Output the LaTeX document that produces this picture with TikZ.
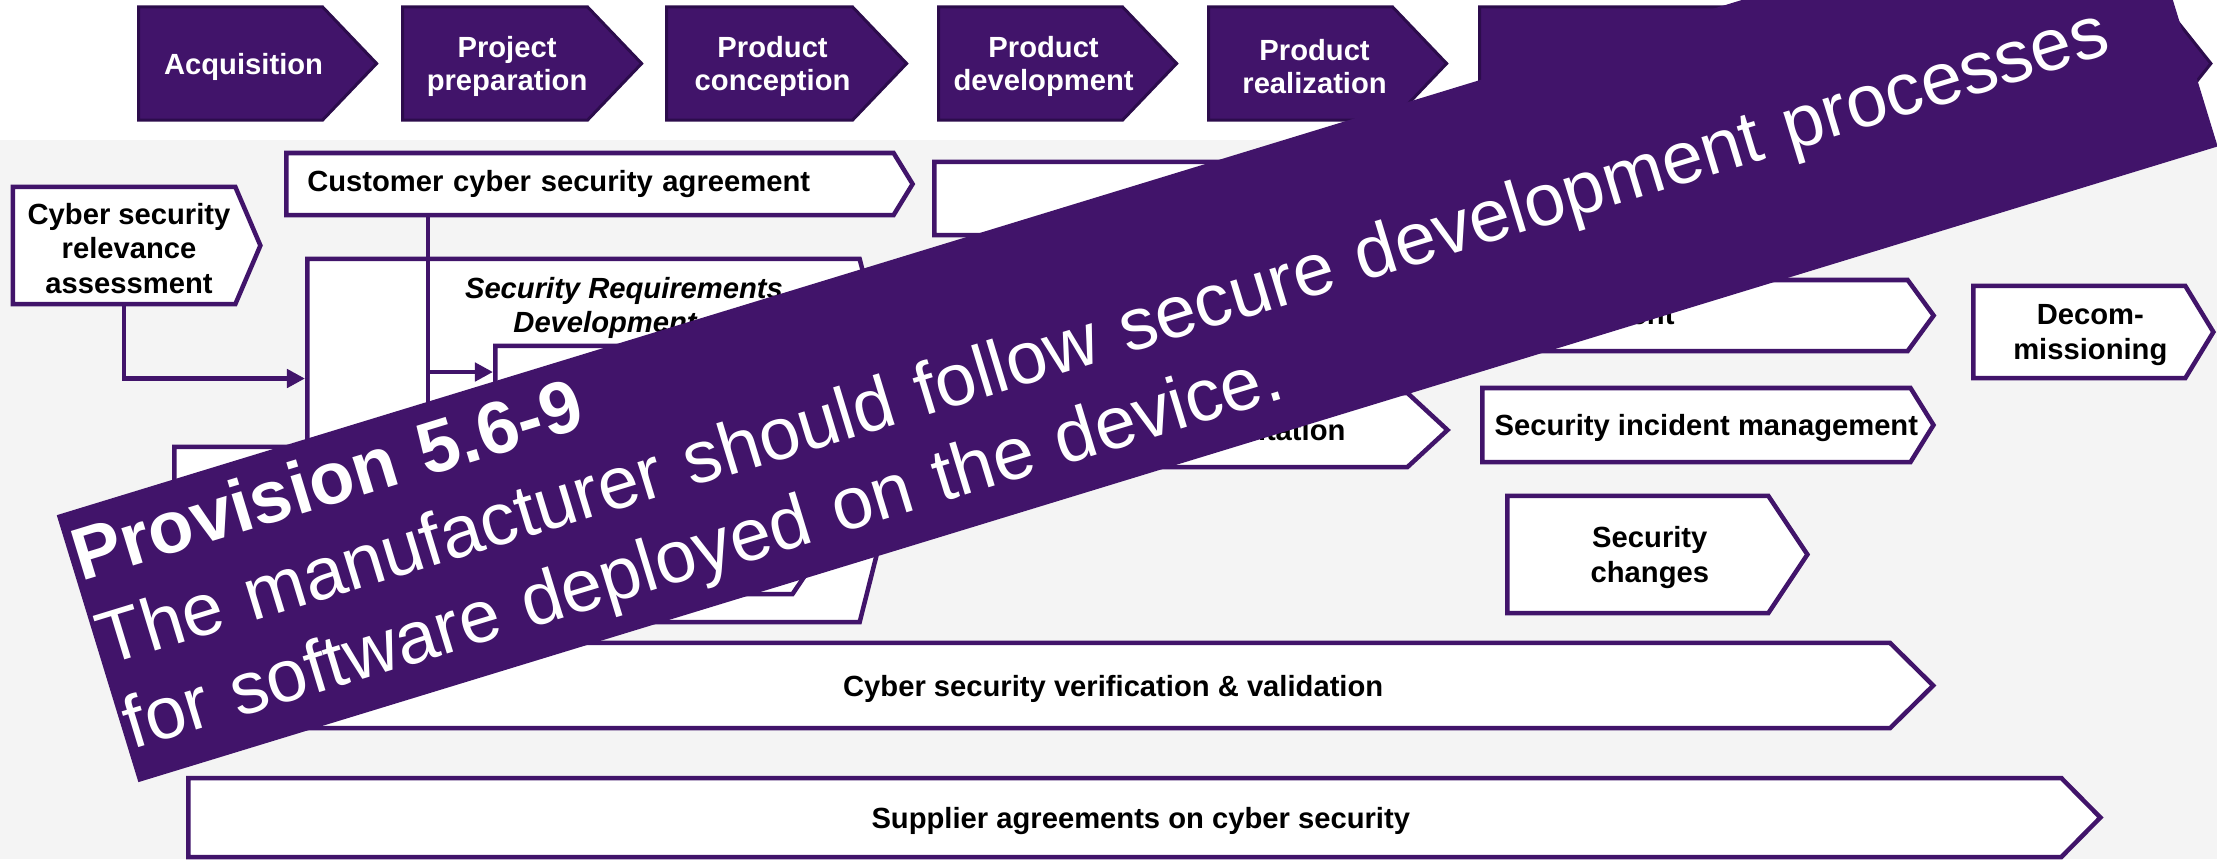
\documentclass[tikz,border=0pt]{standalone}
\usepackage{fontspec}
\setmainfont{Liberation Sans}
\usetikzlibrary{shapes.symbols,arrows.meta,calc}
\definecolor{lilac}{RGB}{65,20,106}
\definecolor{lilacdark}{RGB}{44,12,76}
\definecolor{paper}{RGB}{244,244,244}
\begin{document}
\begin{tikzpicture}[x=0.01cm, y=-0.01cm,
	font=\fontsize{8.3}{9.7}\selectfont\bfseries,
	plate/.style = { signal, signal to=east, draw=lilac, line width=0.045cm,
	fill=white, inner sep=0pt, anchor=west, align=center },
	phase/.style = { plate, draw=lilacdark, line width=0.03cm, fill=lilac,
	minimum height=1.13cm, signal pointer angle=92.6 },
	tag/.style 2 args = { label={[xshift=#1, yshift=-0.03cm, align=center]center:#2} },
	ptag/.style 2 args = { label={[xshift=#1, yshift=-0.03cm, align=center,
	text=white, font=\fontsize{8.3}{9.2}\selectfont\bfseries]center:#2} },
	heading/.style = { font=\fontsize{8.3}{9.7}\selectfont\bfseries\itshape },
	link/.style = { draw=lilac, line width=0.045cm },
	arrowed/.style = { link, -{Triangle[length=0.18cm, width=0.18cm]} },
	banner/.style = { rectangle, fill=lilac, text=white, rotate=17,
	minimum width=21.73cm, minimum height=2.79cm, inner xsep=0.04cm,
	inner ysep=0pt, text width=21.65cm, align=left,
	font=\fontsize{21}{25}\selectfont } ]

  \useasboundingbox (0,0) rectangle (2217,859);
  \fill[paper] (0,140) rectangle (2217,859);

  % life cycle phases
  \node [name=acq, phase, minimum width=2.38cm,
	ptag={0.13cm}{Acquisition}] at (137,63.5) {};
  \node [name=prep, phase, minimum width=2.39cm,
	ptag={0.12cm}{Project\\preparation}] at (401,63.5) {};
  \node [name=conc, phase, minimum width=2.40cm,
	ptag={0.13cm}{Product\\conception}] at (665,63.5) {};
  \node [name=dev, phase, minimum width=2.38cm,
	ptag={0.13cm}{Product\\development}] at (937,63.5) {};
  \node [name=real, phase, minimum width=2.38cm,
	ptag={0.14cm}{Product\\realization}] at (1207,63.5) {};
  \node [name=ops, phase, minimum width=7.31cm,
	signal pointer angle=103] at (1478,63.5) {};

  % activities
  \node [name=relev, plate, minimum width=2.475cm, minimum height=1.17cm,
	signal pointer angle=133.7,
	tag={0.05cm}{Cyber security\\relevance\\assessment}] at (10.5,245.5) {};
  \node [name=cust, plate, minimum width=6.26cm, minimum height=0.62cm,
	signal pointer angle=117, text width=5.65cm, align=left] at (284,184)
	{ Customer cyber security agreement };
  \node [name=monit, plate, minimum width=4.88cm, minimum height=0.73cm,
	signal pointer angle=122.7] at (932,198.5) {};
  \node [name=lbox, plate, minimum width=3.3cm, minimum height=1.53cm,
	signal pointer angle=120] at (172,523.5) {};
  \node [name=srd, plate, minimum width=5.98cm, minimum height=3.63cm,
	signal pointer angle=151.6] at (305,440.5) {};
  \node [name=srtitle, heading, anchor=base] at (624,298) { Security Requirements };
  \node [name=srtitleb, heading, anchor=base west] at (501,332) { Development };
  \node [name=srin, plate, minimum width=3.81cm, minimum height=2.48cm,
	signal pointer angle=111.8] at (493,470) {};
  \node [name=impl, plate, minimum width=4.45cm, minimum height=0.74cm,
	signal pointer angle=85.5, text width=2.81cm, align=right] at (1000,430)
	{ ntation };
  \node [name=vuln, plate, minimum width=7.01cm, minimum height=0.71cm,
	signal pointer angle=107.6, text width=2.09cm, align=right] at (1230,315.5)
	{ ent };
  \node [name=incid, plate, minimum width=4.51cm, minimum height=0.74cm,
	signal pointer angle=116.3,
	tag={0.10cm}{Security incident management}] at (1480,425) {};
  \node [name=chg, plate, minimum width=3.0cm, minimum height=1.17cm,
	signal pointer angle=112.6,
	tag={0.12cm}{Security\\changes}] at (1505,554.5) {};
  \node [name=decom, plate, minimum width=2.40cm, minimum height=0.92cm,
	signal pointer angle=117.3,
	tag={0.11cm}{Decom-\\missioning}] at (1971,332) {};
  \node [name=verif, plate, minimum width=16.4cm, minimum height=0.85cm,
	signal pointer angle=89.3,
	tag={0.22cm}{Cyber security verification \& validation}] at (290,685.5) {};
  \node [name=supp, plate, minimum width=19.11cm, minimum height=0.79cm,
	signal pointer angle=90.7,
	tag={0.16cm}{Supplier agreements on cyber security}] at (186,817.5) {};

  % connectors
  \coordinate (tap) at (428,470);
  \coordinate (inarr) at ($(srin.west)+(0,-98)$);
  \draw [link] (cust.south -| tap) -- (tap);
  \draw [arrowed] (tap |- inarr) -- (inarr);
  \draw [arrowed] (relev.south) |- ($(srd.west)+(0,-62)$);

  % provision banner
  \node [name=prov, banner] at (1137.2,330.8)
	{ \textbf{Provision 5.6-9}\\
	The manufacturer should follow secure development processes\\
	for software deployed on the device. };
\end{tikzpicture}
\end{document}
